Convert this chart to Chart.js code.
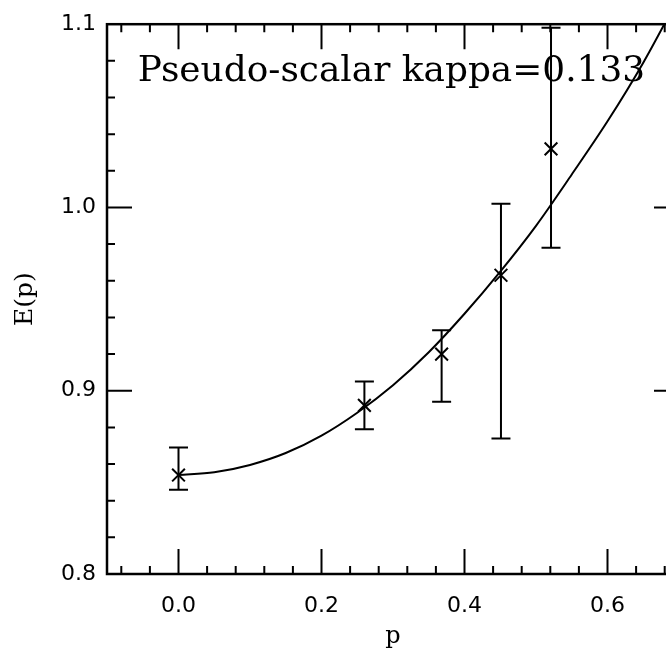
<!DOCTYPE html>
<html>
<head>
<meta charset="utf-8">
<script src="https://cdn.jsdelivr.net/npm/chart.js@4"></script>
<style>
  html, body { margin: 0; padding: 0; background: #fff; overflow: hidden; }
  #wrap { width: 690px; height: 651px; }
</style>
</head>
<body>
<div id="wrap"><canvas id="chart"></canvas></div>
<script>
// measured points (momentum p, energy E) with lower/upper ends of the error bars
const pData  = [0.0,   0.260, 0.368, 0.451, 0.521];
const eData  = [0.854, 0.892, 0.920, 0.963, 1.032];
const eLow   = [0.846, 0.879, 0.894, 0.874, 0.978];
const eHigh  = [0.869, 0.905, 0.933, 1.002, 1.098];

// fitted curve
const curveP = [0.0,   0.05,   0.1,    0.15,  0.2,    0.25,  0.3,   0.35,  0.4,   0.45,  0.5,   0.55,  0.6,   0.65,  0.7];
const curveE = [0.854, 0.8555, 0.8595, 0.866, 0.8755, 0.888, 0.903, 0.921, 0.942, 0.965, 0.990, 1.018, 1.047, 1.079, 1.115];

const xTicks = [0.0, 0.2, 0.4, 0.6];
const yTicks = [0.8, 0.9, 1.0, 1.1];
const label = 'Pseudo-scalar kappa=0.133';

const ink = '#000';

// frame with inward ticks on all four sides, error bars, label
const decorations = {
  id: 'decorations',
  afterDatasetsDraw(chart) {
    const { ctx, chartArea: a, scales: { x, y } } = chart;
    ctx.save();
    ctx.strokeStyle = ink;

    // error bars
    ctx.lineWidth = 2;
    ctx.beginPath();
    pData.forEach((p, i) => {
      const px = x.getPixelForValue(p);
      const lo = y.getPixelForValue(eLow[i]);
      const hi = y.getPixelForValue(eHigh[i]);
      ctx.moveTo(px, lo); ctx.lineTo(px, hi);
      ctx.moveTo(px - 9.5, lo); ctx.lineTo(px + 9.5, lo);
      ctx.moveTo(px - 9.5, hi); ctx.lineTo(px + 9.5, hi);
    });
    ctx.stroke();

    // ticks
    ctx.beginPath();
    for (let v = -0.08; v < 0.7; v += 0.04) {
      const val = Math.round(v * 100) / 100;
      const major = xTicks.some(t => Math.abs(t - val) < 1e-6);
      const len = major ? 25 : 8;
      const px = x.getPixelForValue(val);
      ctx.moveTo(px, a.bottom); ctx.lineTo(px, a.bottom - len);
      ctx.moveTo(px, a.top); ctx.lineTo(px, a.top + len);
    }
    for (let v = 0.82; v < 1.1; v += 0.02) {
      const val = Math.round(v * 100) / 100;
      const major = yTicks.some(t => Math.abs(t - val) < 1e-6);
      const len = major ? 25 : 8;
      const py = y.getPixelForValue(val);
      ctx.moveTo(a.left, py); ctx.lineTo(a.left + len, py);
      ctx.moveTo(a.right, py); ctx.lineTo(a.right - len, py);
    }
    ctx.stroke();

    // frame
    ctx.lineWidth = 2.5;
    ctx.strokeRect(a.left, a.top, a.right - a.left, a.bottom - a.top);

    // label inside the plot
    ctx.fillStyle = ink;
    ctx.font = '30px "DejaVu Serif"';
    ctx.textBaseline = 'alphabetic';
    const w = ctx.measureText(label).width;
    const size = 30 * 508 / w;
    ctx.font = size.toFixed(1) + 'px "DejaVu Serif"';
    ctx.fillText(label, x.getPixelForValue(-0.057), y.getPixelForValue(1.069));
    ctx.restore();
  }
};

new Chart(document.getElementById('chart'), {
  type: 'scatter',
  data: {
    datasets: [
      {
        label: 'fit',
        type: 'line',
        data: curveP.map((p, i) => ({ x: p, y: curveE[i] })),
        borderColor: ink,
        borderWidth: 2,
        pointRadius: 0,
        cubicInterpolationMode: 'monotone',
        fill: false
      },
      {
        label: 'E(p)',
        data: pData.map((p, i) => ({ x: p, y: eData[i] })),
        pointStyle: 'crossRot',
        pointRadius: 9,
        borderColor: ink,
        borderWidth: 2,
        backgroundColor: ink
      }
    ]
  },
  options: {
    responsive: true,
    maintainAspectRatio: false,
    animation: false,
    layout: { padding: { top: 20, right: 10, left: 0, bottom: 0 } },
    plugins: { legend: { display: false }, tooltip: { enabled: false } },
    scales: {
      x: {
        type: 'linear',
        min: -0.1,
        max: 0.7,
        grid: { display: false, drawTicks: false },
        border: { display: false },
        afterBuildTicks: s => { s.ticks = xTicks.map(v => ({ value: v })); },
        afterFit: s => { s.height = 77; },
        ticks: {
          color: ink,
          padding: 19,
          maxRotation: 0,
          font: { family: 'DejaVu Sans', size: 22 },
          callback: v => v.toFixed(1)
        },
        title: {
          display: true,
          text: 'p',
          color: ink,
          padding: { top: 0, bottom: 0 },
          font: { family: 'DejaVu Serif', size: 24 }
        }
      },
      y: {
        type: 'linear',
        min: 0.8,
        max: 1.1,
        grid: { display: false, drawTicks: false },
        border: { display: false },
        afterBuildTicks: s => { s.ticks = yTicks.map(v => ({ value: v })); },
        afterFit: s => { s.width = 107; },
        ticks: {
          color: ink,
          padding: 11,
          font: { family: 'DejaVu Sans', size: 22 },
          callback: v => v.toFixed(1)
        },
        title: {
          display: true,
          text: 'E(p)',
          color: ink,
          padding: { top: 10, bottom: 0 },
          font: { family: 'DejaVu Serif', size: 25 }
        }
      }
    }
  },
  plugins: [decorations]
});
</script>
</body>
</html>
